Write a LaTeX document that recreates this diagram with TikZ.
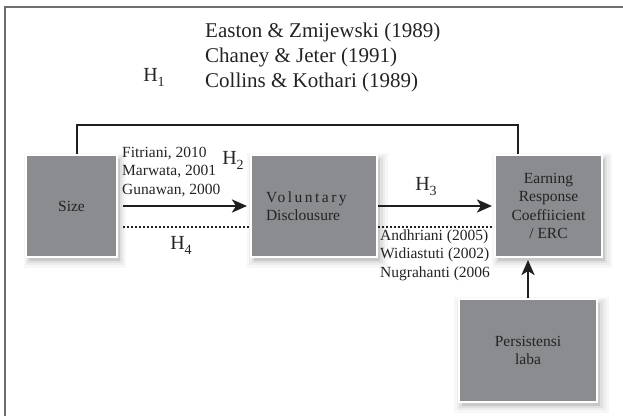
\documentclass[tikz,border=0pt]{standalone}
\usepackage{fontspec}
\setmainfont{Liberation Serif}
\usetikzlibrary{arrows.meta,shadows}
\definecolor{boxgray}{RGB}{139,140,143}
\definecolor{boxtext}{RGB}{35,35,37}
\definecolor{inktext}{RGB}{35,35,35}
\definecolor{framegray}{RGB}{110,110,110}
\newcommand{\Hlab}[1]{H\raisebox{-5pt}{\fontsize{14}{14}\selectfont #1}}
\begin{document}
\begin{tikzpicture}[x=1pt,y=-1pt,
  softshadow/.style={
    general shadow={fill=black,opacity=.10,shadow xshift=3pt,shadow yshift=-4pt,shadow scale=1.00},
    general shadow={fill=black,opacity=.06,shadow xshift=3pt,shadow yshift=-4pt,shadow scale=1.04},
    general shadow={fill=black,opacity=.04,shadow xshift=3pt,shadow yshift=-4pt,shadow scale=1.08},
    general shadow={fill=black,opacity=.03,shadow xshift=3pt,shadow yshift=-4pt,shadow scale=1.12}},
  boxnode/.style={rectangle,fill=boxgray,draw=white,line width=2pt,softshadow,
    text=boxtext,font=\fontsize{15.5}{18.5}\selectfont,align=center,inner sep=0pt},
  hlabel/.style={inner sep=0pt,text=inktext,font=\fontsize{20}{24}\selectfont},
  cite/.style={inner sep=0pt,text=inktext,align=left,font=\fontsize{15.5}{18.5}\selectfont},
  conn/.style={line width=2.8pt,draw=black!88},
  arr/.style={conn,-{Stealth[length=15pt,width=13pt,inset=4pt]}},
  dotline/.style={line width=2pt,draw=black!88,dash pattern=on 1.6pt off 2.4pt}]
\useasboundingbox (0,0) rectangle (623,415);
\begin{scope}
\clip (0,0) rectangle (623,415);
\draw[framegray,line width=1.5pt] (5,7) rectangle (640,430);
\end{scope}

% boxes
\node[boxnode,minimum width=91pt,minimum height=102pt] (size) at (71.5,206) {Size};
\node[boxnode,minimum width=126pt,minimum height=102pt,text width=96pt,align=left] (vol) at (314,206)
  {{\addfontfeature{LetterSpace=16}Voluntary}\\Disclousure};
\node[boxnode,minimum width=107pt,minimum height=102pt] (erc) at (548.5,206)
  {Earning\\Response\\Coeffiicient\\/ ERC};
\node[boxnode,minimum width=138pt,minimum height=103pt] (pers) at (528,350.5)
  {Persistensi\\laba};

% texts
\node[inner sep=0pt,text=inktext,align=left,anchor=west,font=\fontsize{21}{25}\selectfont] (refs) at (205,57)
  {Easton \& Zmijewski (1989)\\Chaney \& Jeter (1991)\\Collins \& Kothari (1989)};
\node[cite,anchor=west] (cite2) at (122,172) {Fitriani, 2010\\Marwata, 2001\\Gunawan, 2000};
\node[cite,anchor=west] (cite3) at (380,255) {Andhriani (2005)\\Widiastuti (2002)\\Nugrahanti (2006};
\node[hlabel] (h1) at (154,77) {\Hlab{1}};
\node[hlabel] (h2) at (233,160) {\Hlab{2}};
\node[hlabel] (h3) at (426,187) {\Hlab{3}};
\node[hlabel] (h4) at (181,245) {\Hlab{4}};

% connectors
\draw[conn] ([xshift=5.5pt]size.north) -- ++(0,-29) -| ([xshift=-30.5pt]erc.north);
\draw[arr,shorten >=3pt] ([xshift=5pt]size.east) -- (vol.west);
\draw[arr,shorten >=2pt] (vol.east) -- (erc.west);
\draw[dotline] ([xshift=5pt,yshift=-21pt]size.east) -- ([yshift=-21pt]vol.west);
\draw[dotline] ([yshift=-21pt]vol.east) -- ([yshift=-21pt]erc.west);
\draw[arr,shorten >=2pt] (pers.north) -- (pers.north |- erc.south);
\end{tikzpicture}
\end{document}
